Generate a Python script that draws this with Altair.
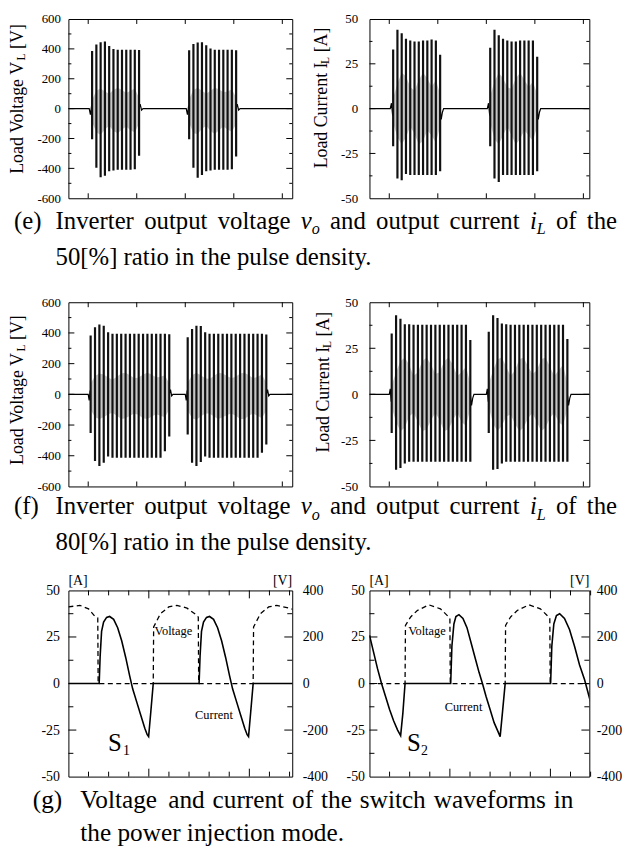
import altair as alt
import pandas as pd

FONT = "Liberation Serif"

# ================= DATA =================
# ---- (e) 50 % pulse density: two bursts, 12 cycles each ----
E_BURSTS = [0.0, 2.0]
E_OFFS = [0.08, 0.168, 0.256, 0.344, 0.432, 0.52, 0.608, 0.696, 0.784, 0.872, 0.96, 1.048]
EV_HI = [[385, 430, 445, 450, 420, 400, 395, 395, 395, 395, 395, 392],
         [390, 432, 442, 445, 425, 402, 395, 395, 395, 395, 395, 390]]
EV_LO = [[-205, -395, -460, -450, -420, -415, -410, -410, -410, -410, -405, -315],
         [-205, -395, -462, -445, -420, -415, -410, -410, -410, -410, -405, -320]]
EV_GUP = [[60, 120, 135, 115, 100, 125, 140, 125, 105, 120, 135, 70],
          [65, 125, 140, 120, 100, 120, 140, 130, 110, 115, 130, 75]]
EV_GDN = [[-90, -160, -175, -140, -115, -150, -165, -140, -120, -145, -160, -100],
          [-95, -165, -170, -135, -115, -150, -170, -145, -120, -140, -155, -105]]
EV_BASE_T = [-0.41, 0.02, 0.045, 0.07, 0.08, 1.048, 1.07, 1.1, 1.13, 2.02, 2.045, 2.07, 2.08, 3.048, 3.07, 3.1, 3.13, 4.21]
EV_BASE_V = [0, 0, -40, 20, 0, 0, 30, -10, 0, 0, -40, 20, 0, 0, 30, -10, 0, 0]

EI_HI = [[33, 44, 42, 39, 38, 37.5, 37.5, 38, 38, 38.5, 38, 30],
         [34, 44, 41, 39, 38, 37.5, 37.5, 38, 38, 38, 38, 29]]
EI_LO = [[-21, -39, -40, -36.5, -37, -37, -37, -37, -37, -37, -37, -35],
         [-21, -39, -41, -37, -37, -37, -37, -37, -37, -37, -37, -35]]
EI_GUP = [[6, 14, 20, 18, 12, 10, 16, 20, 17, 12, 16, 8],
          [7, 15, 20, 17, 12, 11, 17, 20, 16, 12, 15, 8]]
EI_GDN = [[-8, -16, -20, -16, -10, -14, -20, -18, -12, -15, -19, -10],
          [-8, -17, -20, -15, -10, -15, -20, -17, -12, -15, -18, -10]]
EI_BASE_T = [-0.41, 0.02, 0.045, 0.07, 0.08, 1.048, 1.07, 1.095, 1.12, 2.02, 2.045, 2.07, 2.08, 3.048, 3.07, 3.095, 3.12, 4.21]
EI_BASE_V = [0, 0, 3, -4, 0, 0, -6, -2, 0, 0, 3, -4, 0, 0, -6, -2, 0, 0]

# ---- (f) 80 % pulse density: two bursts, 19 cycles each ----
F_BURSTS = [0.0, 2.0]
F_OFFS = [0.05, 0.14, 0.23, 0.32, 0.41, 0.5, 0.59, 0.68, 0.77, 0.86,
          0.95, 1.04, 1.13, 1.22, 1.31, 1.4, 1.49, 1.58, 1.67]
FV_HI = [[383, 437, 455, 447, 405, 395, 395, 395, 395, 395, 395, 395, 395, 395, 395, 395, 395, 395, 392],
         [372, 426, 447, 445, 404, 395, 395, 395, 395, 395, 395, 395, 395, 395, 395, 395, 395, 395, 390]]
FV_LO = [[-252, -434, -467, -445, -405, -413, -413, -413, -413, -413, -413, -413, -413, -413, -413, -413, -413, -370, -275],
         [-262, -445, -467, -440, -405, -413, -413, -413, -413, -413, -413, -413, -413, -413, -413, -413, -413, -380, -327]]
FV_GUP = [[70, 120, 135, 130, 110, 95, 115, 135, 140, 125, 105, 110, 130, 140, 130, 110, 115, 125, 70],
          [75, 125, 140, 125, 105, 100, 120, 140, 135, 120, 105, 115, 135, 140, 125, 105, 115, 130, 75]]
FV_GDN = [[-100, -150, -160, -150, -130, -120, -140, -160, -155, -140, -125, -135, -155, -160, -145, -130, -140, -150, -100],
          [-105, -155, -165, -145, -125, -125, -145, -160, -150, -135, -125, -140, -160, -160, -140, -125, -140, -155, -105]]
FV_BASE_T = [-0.41, 0.0, 0.02, 0.04, 0.05, 1.67, 1.695, 1.72, 1.745, 2.0, 2.02, 2.04, 2.05, 3.67, 3.695, 3.72, 3.745, 4.21]
FV_BASE_V = [0, 0, -40, 25, 0, 0, 30, -10, 0, 0, -40, 25, 0, 0, 30, -10, 0, 0]

FI_HI = [[33, 43, 41, 38, 38, 37.8, 37.8, 37.8, 37.8, 37.8, 37.8, 37.8, 37.8, 37.8, 37.8, 37.8, 37.8, 37.8, 29.5],
         [34, 43, 41.5, 38.5, 38, 37.8, 37.8, 37.8, 37.8, 37.8, 37.8, 37.8, 37.8, 37.8, 37.8, 37.8, 37.8, 37.8, 30]]
FI_LO = [[-21, -41, -40, -37.5, -36.6, -36.6, -36.6, -36.6, -36.6, -36.6, -36.6, -36.6, -36.6, -36.6, -36.6, -36.6, -36.6, -36.6, -36.6],
         [-21, -41, -40.5, -37.5, -36.6, -36.6, -36.6, -36.6, -36.6, -36.6, -36.6, -36.6, -36.6, -36.6, -36.6, -36.6, -36.6, -36.6, -36.6]]
FI_GUP = [[5, 12, 18, 20, 16, 10, 12, 18, 20, 16, 11, 12, 18, 20, 16, 10, 12, 15, 6],
          [6, 13, 19, 20, 15, 10, 13, 19, 20, 15, 11, 13, 19, 20, 15, 10, 13, 16, 6]]
FI_GDN = [[-7, -15, -20, -18, -12, -10, -15, -20, -19, -14, -10, -14, -20, -19, -14, -10, -15, -17, -8],
          [-7, -16, -20, -17, -12, -11, -16, -20, -18, -13, -10, -15, -20, -18, -13, -10, -15, -17, -8]]
FI_BASE_T = [-0.41, 0.0, 0.02, 0.04, 0.05, 1.67, 1.695, 1.72, 1.745, 2.0, 2.02, 2.04, 2.05, 3.67, 3.695, 3.72, 3.745, 4.21]
FI_BASE_V = [0, 0, 3, -4, 0, 0, -6, -2, 0, 0, 3, -4, 0, 0, -6, -2, 0, 0]

# ---- (g) switch waveforms (time in minor-tick units) ----
S1_I_T = [0, 1.53, 1.58, 1.65, 1.75, 1.9, 2.05, 2.25, 2.45, 2.65, 2.85, 3.05, 3.2, 3.4, 3.6, 3.8, 3.92, 3.99, 4.1, 4.22,
          6.5, 6.55, 6.62, 6.72, 6.87, 7.02, 7.22, 7.42, 7.62, 7.82, 8.02, 8.17, 8.37, 8.57, 8.77, 8.89, 8.96, 9.07, 9.19, 11.2]
S1_I = [0, 0, 15, 28, 33, 35.5, 36, 34.5, 30, 23, 14, 4, -3, -10, -17, -24, -27.5, -28.5, -15, 0,
        0, 15, 28, 33, 35.5, 36, 34.5, 30, 23, 14, 4, -3, -10, -17, -24, -27.5, -28.5, -15, 0, 0]
S1_V_T = [0, 0.57, 1.0, 1.34, 1.46, 1.48, 4.22, 4.24, 4.58, 4.99, 5.4, 5.9, 6.39, 6.46, 6.48,
          9.19, 9.21, 9.55, 9.96, 10.37, 10.87, 11.2]
S1_V = [329, 336, 321, 286, 282, 0, 0, 243, 300, 329, 336, 324, 293, 285, 0,
        0, 243, 300, 329, 336, 326, 318]

S2_I_T = [0, 0.2, 0.4, 0.6, 0.8, 1.0, 1.2, 1.4, 1.55, 1.66, 1.77, 4.04, 4.1, 4.2, 4.3, 4.45, 4.65, 4.85, 5.05, 5.25, 5.45,
          5.62, 5.8, 6.0, 6.2, 6.4, 6.5, 6.62, 6.75, 9.01, 9.07, 9.17, 9.3, 9.46, 9.7, 9.95, 10.2, 10.45, 10.7, 10.9, 11.2]
S2_I = [26, 17, 8, 0, -7, -14, -20, -25, -28, -16, 0, 0, 20, 32, 36, 37, 35, 30, 22, 14, 6,
        0, -7, -14, -21, -26, -28.5, -15, 0, 0, 20, 32, 36.5, 37.5, 35, 29, 20, 10, 2, -6, -18]
S2_V_T = [0, 1.77, 1.79, 2.05, 2.38, 2.96, 3.53, 3.94, 4.0, 4.02, 6.75, 6.77, 7.02, 7.35, 7.93, 8.5, 8.91, 8.97, 8.99, 11.2]
S2_V = [0, 0, 250, 286, 314, 338, 321, 286, 280, 0, 0, 250, 286, 314, 338, 321, 286, 280, 0, 0]

# ---- axis tick values ----
X_TICKS_EF = [0, 1, 2, 3, 4]
V_MAJ = [-400, -200, 0, 200, 400]
V_MIN = [-500, -300, -100, 100, 300, 500]
V_LAB = [-600, -400, -200, 0, 200, 400, 600]
I_MAJ = [-25, 0, 25]
I_MIN = [-37.5, -12.5, 12.5, 37.5]
I_LAB = [-50, -25, 0, 25, 50]
G_V_LAB = [-400, -200, 0, 200, 400]
G_X_MAJ = [4, 9]
G_X_MIN = [1, 2, 3, 5, 6, 7, 8, 10, 11]

# ================= HELPERS =================
TR = {' ': 250, '(': 333, ')': 333, '[': 333, ']': 333, '%': 833, '.': 250,
      'a': 444, 'b': 500, 'c': 444, 'd': 500, 'e': 444, 'f': 333, 'g': 500, 'h': 500, 'i': 278,
      'j': 278, 'k': 500, 'l': 278, 'm': 778, 'n': 500, 'o': 500, 'p': 500, 'q': 500, 'r': 333,
      's': 389, 't': 278, 'u': 500, 'v': 500, 'w': 722, 'x': 500, 'y': 500, 'z': 444,
      'A': 722, 'C': 667, 'I': 333, 'L': 611, 'S': 556, 'V': 722}
TI = {'v': 444, 'o': 500, 'i': 278, 'L': 556}


def tw(s, fs, italic=False):
    tab = TI if italic else TR
    return sum(tab.get(c, 500) for c in s) * fs / 1000.0


DUMMY = pd.DataFrame({"d": [0]})


def txt(s, x, y, fs, italic=False, align="left", baseline="alphabetic", angle=None):
    kw = dict(text=s, font=FONT, fontSize=fs, align=align, baseline=baseline, color="black")
    if italic:
        kw["fontStyle"] = "italic"
    if angle is not None:
        kw["angle"] = angle
    return alt.Chart(DUMMY).mark_text(**kw).encode(x=alt.value(x), y=alt.value(y))


def vtitle(runs, x, cy, fs):
    sub = 0.65
    lens = [tw(t, fs * (sub if s else 1)) for t, s in runs]
    y = cy + sum(lens) / 2
    out = []
    for (t, s), L in zip(runs, lens):
        if s:
            y += 1.5
        if t.strip():
            out.append(txt(t, x + (0.12 * fs if s else 0), y, fs * (sub if s else 1), angle=270))
        y -= L
    return out


def caption_line(words, x0, base, fs, x_end=None):
    sub = 0.65

    def rw(t, st):
        return tw(t, fs * (sub if st == "isub" else 1), st != "r")

    widths = [sum(rw(t, s) for t, s in w) for w in words]
    gap = 0.25 * fs
    if x_end is not None and len(words) > 1:
        gap = (x_end - x0 - sum(widths)) / (len(words) - 1)
    out = []
    x = x0
    for w, wd in zip(words, widths):
        cx = x
        for t, s in w:
            size = fs * (sub if s == "isub" else 1)
            dy = 0.22 * fs if s == "isub" else 0
            out.append(txt(t, cx, base + dy, size, italic=(s != "r")))
            cx += rw(t, s)
        x += wd + gap
    return out


def yaxis(vals, fs, pad, orient="left"):
    return alt.Axis(values=vals, labelExpr="'' + datum.value", ticks=False, tickSize=0, domain=False,
                    grid=False, labelFont=FONT, labelFontSize=fs, labelColor="black", labelPadding=pad,
                    labelOverlap=False, title=None, orient=orient)


def yticks(vals, ys, ax, side, length, W):
    x0, x1 = (0, length) if side == "left" else (W, W - length)
    return alt.Chart(pd.DataFrame({"v": vals})).mark_rule(color="black", strokeWidth=1).encode(
        y=alt.Y("v:Q", scale=ys, axis=ax), x=alt.value(x0), x2=alt.value(x1))


def xticks(vals, xs, side, length, H):
    y0, y1 = (0, length) if side == "top" else (H, H - length)
    return alt.Chart(pd.DataFrame({"v": vals})).mark_rule(color="black", strokeWidth=1).encode(
        x=alt.X("v:Q", scale=xs, axis=None), y=alt.value(y0), y2=alt.value(y1))


def burst_df(starts, offs, hi, lo, gup, gdn):
    rows = []
    for b, s in enumerate(starts):
        for k, o in enumerate(offs):
            rows.append(dict(t=s + o, hi=hi[b][k], lo=lo[b][k], up=gup[b][k], dn=gdn[b][k], b=b))
    return pd.DataFrame(rows)


def ef_panel(W, H, ydom, ylab, ymaj, ymin, df, bt, bv, lpad, extras):
    xs = alt.Scale(domain=[-20 / 49, (W - 20) / 49], nice=False, zero=False)
    ys = alt.Scale(domain=ydom, nice=False, zero=False)
    ax = yaxis(ylab, 13, lpad)
    base = alt.Chart(pd.DataFrame({"t": bt, "v": bv})).mark_line(color="black", strokeWidth=1.2, clip=True).encode(
        x=alt.X("t:Q", scale=xs, axis=None),
        y=alt.Y("v:Q", scale=ys, axis=ax))
    gray = alt.Chart(df).mark_area(color="#c6c6c6", clip=True).encode(
        x=alt.X("t:Q", scale=xs, axis=None), y=alt.Y("dn:Q", scale=ys, axis=ax), y2="up:Q", detail="b:N")
    spikes = alt.Chart(df).mark_rule(color="#111111", strokeWidth=2.2, clip=True).encode(
        x=alt.X("t:Q", scale=xs, axis=None), y=alt.Y("lo:Q", scale=ys, axis=ax), y2="hi:Q")
    layers = [base, gray, spikes,
              yticks(ymaj, ys, ax, "left", 6, W), yticks(ymin, ys, ax, "left", 3, W),
              yticks(ymaj, ys, ax, "right", 6, W), yticks(ymin, ys, ax, "right", 3, W),
              xticks(X_TICKS_EF, xs, "top", 5, H), xticks(X_TICKS_EF, xs, "bottom", 5, H)] + extras
    return alt.layer(*layers).properties(width=W, height=H)


def g_panel(W, H, it, iv, vt, vv, lpad_l, lpad_r, extras):
    xs = alt.Scale(domain=[0, W / 20.3], nice=False, zero=False)
    ys_i = alt.Scale(domain=[-50, 50], nice=False, zero=False)
    ys_v = alt.Scale(domain=[-400, 400], nice=False, zero=False)
    ax_i = yaxis(I_LAB, 14, lpad_l, "left")
    cur = alt.Chart(pd.DataFrame({"t": it, "i": iv})).mark_line(color="black", strokeWidth=1.6, clip=True).encode(
        x=alt.X("t:Q", scale=xs, axis=None),
        y=alt.Y("i:Q", scale=ys_i, axis=ax_i))
    vol = alt.Chart(pd.DataFrame({"t": vt, "v": vv})).mark_line(
        color="black", strokeWidth=1.3, strokeDash=[5, 3.5], clip=True).encode(
        x=alt.X("t:Q", scale=xs, axis=None),
        y=alt.Y("v:Q", scale=ys_v, axis=yaxis(G_V_LAB, 14, lpad_r, "right")))
    inner = alt.layer(cur,
                      yticks(I_MAJ, ys_i, ax_i, "left", 8, W), yticks(I_MIN, ys_i, ax_i, "left", 5, W),
                      yticks(I_MAJ, ys_i, ax_i, "right", 8, W), yticks(I_MIN, ys_i, ax_i, "right", 5, W),
                      xticks(G_X_MAJ, xs, "top", 8, H), xticks(G_X_MIN, xs, "top", 5, H),
                      xticks(G_X_MAJ, xs, "bottom", 8, H), xticks(G_X_MIN, xs, "bottom", 5, H),
                      *extras)
    return alt.layer(inner, vol).resolve_scale(y="independent").properties(width=W, height=H)


# ================= LAYOUT =================
WL, WR = 226, 222
HE, HF, HG = 181, 186, 188
ROW_GAP, COL_GAP = 105, 78
X0 = 68
ROW_Y = [15, 15 + HE + ROW_GAP, 15 + HE + ROW_GAP + HF + ROW_GAP]
CAP_FS = 25
G_CAP_FS = 25.5


def rel_x(px):
    return px - X0


def cap_words(sub_v, sub_i):
    return [[("Inverter", "r")], [("output", "r")], [("voltage", "r")], [("v", "i"), (sub_v, "isub")],
            [("and", "r")], [("output", "r")], [("current", "r")], [("i", "i"), (sub_i, "isub")],
            [("of", "r")], [("the", "r")]]


TITLE_V = [("Load Voltage V", False), ("L", True), (" ", False), ("[V]", False)]
TITLE_I = [("Load Current I", False), ("L", True), (" ", False), ("[A]", False)]

# (e) row
e_cap = ([txt("(e)", rel_x(13), 227 - ROW_Y[0], CAP_FS)]
         + caption_line(cap_words("o", "L"), rel_x(55), 227 - ROW_Y[0], CAP_FS, x_end=rel_x(622))
         + [txt("50[%] ratio in the pulse density.", rel_x(55), 263 - ROW_Y[0], CAP_FS)])
e_left = ef_panel(WL, HE, [-600, 600], V_LAB, V_MAJ, V_MIN,
                  burst_df(E_BURSTS, E_OFFS, EV_HI, EV_LO, EV_GUP, EV_GDN), EV_BASE_T, EV_BASE_V, 8,
                  vtitle(TITLE_V, -45.6, 80, 18) + e_cap)
e_right = ef_panel(WR, HE, [-50, 50], I_LAB, I_MAJ, I_MIN,
                   burst_df(E_BURSTS, E_OFFS, EI_HI, EI_LO, EI_GUP, EI_GDN), EI_BASE_T, EI_BASE_V, 12,
                   vtitle(TITLE_I, -43, 79, 18))

# (f) row
f_cap = ([txt("(f)", rel_x(13), 515 - ROW_Y[1], CAP_FS)]
         + caption_line(cap_words("o", "L"), rel_x(55), 515 - ROW_Y[1], CAP_FS, x_end=rel_x(622))
         + [txt("80[%] ratio in the pulse density.", rel_x(55), 551 - ROW_Y[1], CAP_FS)])
f_left = ef_panel(WL, HF, [-600, 600], V_LAB, V_MAJ, V_MIN,
                  burst_df(F_BURSTS, F_OFFS, FV_HI, FV_LO, FV_GUP, FV_GDN), FV_BASE_T, FV_BASE_V, 8,
                  vtitle(TITLE_V, -45.6, 88, 18) + f_cap)
f_right = ef_panel(WR, HF, [-50, 50], I_LAB, I_MAJ, I_MIN,
                   burst_df(F_BURSTS, F_OFFS, FI_HI, FI_LO, FI_GUP, FI_GDN), FI_BASE_T, FI_BASE_V, 12,
                   vtitle(TITLE_I, -41, 80, 18))

# (g) row
g_words = [[(w, "r")] for w in "Voltage and current of the switch waveforms in".split()]
g_cap = ([txt("(g)", rel_x(32), 812 - ROW_Y[2], G_CAP_FS)]
         + caption_line(g_words, rel_x(80), 812 - ROW_Y[2], G_CAP_FS, x_end=rel_x(578))
         + [txt("the power injection mode.", rel_x(80), 845 - ROW_Y[2], G_CAP_FS)])
g1_txt = [txt("Voltage", 106, 41, 12.5, align="center", baseline="middle"),
          txt("Current", 147, 126, 12.5, align="center", baseline="middle"),
          txt("S", 40, 162, 25), txt("1", 55, 166, 14),
          txt("[A]", 0, -5, 14), txt("[V]", WL, -5, 14, align="right")]
g2_txt = [txt("Voltage", 58, 41, 12.5, align="center", baseline="middle"),
          txt("Current", 95, 118, 12.5, align="center", baseline="middle"),
          txt("S", 38, 162, 25), txt("2", 52, 166, 14),
          txt("[A]", 0, -5, 14), txt("[V]", WR, -5, 14, align="right")]
g_left = g_panel(WL, HG, S1_I_T, S1_I, S1_V_T, S1_V, 9, 10, g1_txt + g_cap)
g_right = g_panel(WR, HG, S2_I_T, S2_I, S2_V_T, S2_V, 5, 7, g2_txt)

chart = alt.concat(e_left, e_right, f_left, f_right, g_left, g_right, columns=2,
                   spacing=alt.RowColnumber(row=ROW_GAP, column=COL_GAP)).properties(
    bounds="flush", align="each", padding=0
).configure_view(stroke="black", strokeWidth=1)

chart.save("out.html", embed_options={"renderer": "svg", "actions": False})
